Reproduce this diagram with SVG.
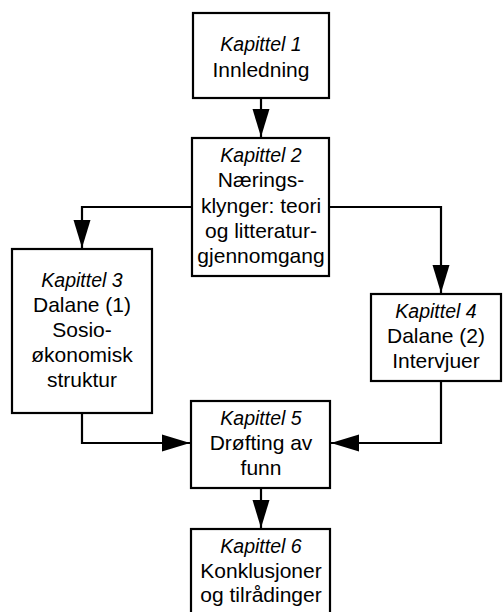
<svg xmlns="http://www.w3.org/2000/svg" width="503" height="612" viewBox="0 0 503 612">
<defs>
<style>
.box{fill:#fff;stroke:#000;stroke-width:2.2}
.t{font-family:"Liberation Sans",Arial,sans-serif;font-size:21px;text-anchor:middle;fill:#000}
.i{font-style:italic;font-size:19.5px}
.c{fill:none;stroke:#000;stroke-width:2.2}
</style>
<marker id="ah" markerUnits="userSpaceOnUse" markerWidth="28" markerHeight="18" refX="28" refY="8.5" orient="auto" viewBox="0 0 28 17">
<path d="M0,0 L28,8.5 L0,17 Z" fill="#000"/>
</marker>
</defs>
<rect width="503" height="612" fill="#fff"/>
<g id="connectors">
<path class="c" d="M261,98 V137" marker-end="url(#ah)"/>
<path class="c" d="M192,207 H82 V248" marker-end="url(#ah)"/>
<path class="c" d="M330,207 H441 V293" marker-end="url(#ah)"/>
<path class="c" d="M82,413 V443 H190" marker-end="url(#ah)"/>
<path class="c" d="M441,381 V443 H331" marker-end="url(#ah)"/>
<path class="c" d="M261,488 V528" marker-end="url(#ah)"/>
</g>
<g id="k1">
<rect class="box" x="193" y="13" width="136" height="85"/>
<text class="t" x="261" y="51"><tspan class="i">Kapittel 1</tspan><tspan x="261" y="76.5">Innledning</tspan></text>
</g>
<g id="k2">
<rect class="box" x="192" y="138" width="137" height="138"/>
<text class="t" x="261" y="162"><tspan class="i">Kapittel 2</tspan><tspan x="261" y="187">Nærings-</tspan><tspan x="261" y="212.5">klynger: teori</tspan><tspan x="261" y="237.5">og litteratur-</tspan><tspan x="261" y="263">gjennomgang</tspan></text>
</g>
<g id="k3">
<rect class="box" x="12" y="249" width="140" height="164"/>
<text class="t" x="82" y="286.5"><tspan class="i">Kapittel 3</tspan><tspan x="82" y="311.5">Dalane (1)</tspan><tspan x="82" y="337">Sosio-</tspan><tspan x="82" y="362">økonomisk</tspan><tspan x="82" y="387">struktur</tspan></text>
</g>
<g id="k4">
<rect class="box" x="371" y="294" width="130" height="87"/>
<text class="t" x="436" y="317.5"><tspan class="i">Kapittel 4</tspan><tspan x="436" y="343">Dalane (2)</tspan><tspan x="436" y="368">Intervjuer</tspan></text>
</g>
<g id="k5">
<rect class="box" x="191" y="401" width="139" height="87"/>
<text class="t" x="261" y="425"><tspan class="i">Kapittel 5</tspan><tspan x="261" y="450">Drøfting av</tspan><tspan x="261" y="475">funn</tspan></text>
</g>
<g id="k6">
<rect class="box" x="191" y="529" width="139" height="90"/>
<text class="t" x="261" y="553"><tspan class="i">Kapittel 6</tspan><tspan x="261" y="578">Konklusjoner</tspan><tspan x="261" y="602">og tilrådinger</tspan></text>
</g>
</svg>
